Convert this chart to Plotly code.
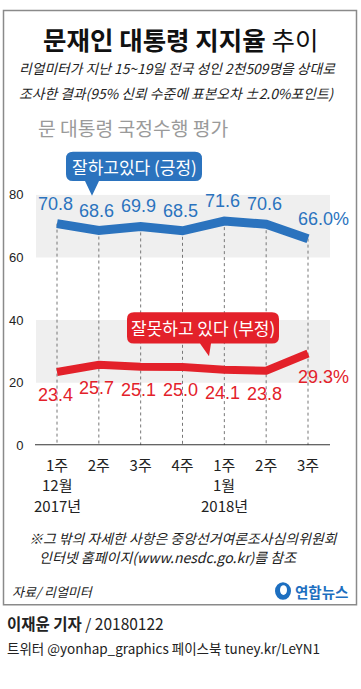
import plotly.graph_objects as go

W, H = 361, 689

weeks = ["1주", "2주", "3주", "4주", "1주", "2주", "3주"]
months = ["12월", "", "", "", "1월", "", ""]
years = ["2017년", "", "", "", "2018년", "", ""]
positive = [70.8, 68.6, 69.9, 68.5, 71.6, 70.6, 66.0]
negative = [23.4, 25.7, 25.1, 25.0, 24.1, 23.8, 29.3]
y_ticks = [0, 20, 40, 60, 80]

BLUE = "#2b73be"
RED = "#e3212a"
FONT = "Liberation Sans, Noto Sans CJK KR, sans-serif"
KFONT = "Noto Sans CJK KR, sans-serif"


def px(x):
    return x / W


def py(y):
    return 1 - y / H


xs = list(range(len(weeks)))

fig = go.Figure()

# dotted guides
gx, gy = [], []
for i, v in enumerate(positive):
    gx += [i, i, None]
    gy += [v, 0, None]
fig.add_trace(go.Scatter(x=gx, y=gy, mode="lines", hoverinfo="skip",
                         line=dict(color="#777777", width=1, dash="dot"), showlegend=False))

fig.add_trace(go.Scatter(x=xs, y=positive, mode="lines", line=dict(color=BLUE, width=9),
                         showlegend=False))
fig.add_trace(go.Scatter(x=xs, y=negative, mode="lines", line=dict(color=RED, width=8),
                         showlegend=False))

annotations = []
for i, v in enumerate(positive):
    last = i == len(positive) - 1
    annotations.append(dict(x=i, y=v, xref="x", yref="y", text=f"{v:.1f}" + ("%" if last else ""),
                            showarrow=False, yshift=20, xshift=(15 if last else -2),
                            font=dict(family=FONT, size=18, color=BLUE)))
for i, v in enumerate(negative):
    last = i == len(negative) - 1
    annotations.append(dict(x=i, y=v, xref="x", yref="y", text=f"{v:.1f}" + ("%" if last else ""),
                            showarrow=False, yshift=-23, xshift=(15 if last else -2),
                            font=dict(family=FONT, size=18, color=RED)))

# month / year rows under the week ticks
for i, (m, yv) in enumerate(zip(months, years)):
    if m:
        annotations.append(dict(x=i, y=1 - 488 / H, xref="x", yref="paper", text=m,
                                showarrow=False, yanchor="middle",
                                font=dict(family=KFONT, size=15, color="#222")))
    if yv:
        annotations.append(dict(x=i, y=1 - 509.5 / H, xref="x", yref="paper", text=yv,
                                showarrow=False, yanchor="middle",
                                font=dict(family=KFONT, size=15, color="#222")))


def T(text, x, y, size, color="#222", anchor="left", family=KFONT, style="normal"):
    annotations.append(dict(x=px(x), y=py(y), xref="paper", yref="paper", text=text,
                            showarrow=False, xanchor=anchor, yanchor="middle",
                            font=dict(family=family, size=size, color=color, style=style)))


T("<b>문재인 대통령 지지율</b> 추이", 180, 32, 25.5, "#111", "center")
T("리얼미터가 지난 15~19일 전국 성인 2천509명을 상대로", 17, 62, 13.8, "#222", style="italic")
T("조사한 결과(95% 신뢰 수준에 표본오차 ±2.0%포인트)", 17, 88, 13.8, "#222", style="italic")
T("문 대통령 국정수행 평가", 36, 124, 19.3, "#9a9a9a")
T("잘하고있다 (긍정)", 134, 163, 17, "white", "center")
T("잘못하고 있다 (부정)", 203, 328, 17, "white", "center")
T("※그 밖의 자세한 사항은 중앙선거여론조사심의위원회", 27, 543, 13.9, "#222", style="italic")
T("인터넷 홈페이지(www.nesdc.go.kr)를 참조", 37, 562, 14, "#222", style="italic")
T("자료/ 리얼미터", 10, 598, 13, "#222", style="italic")
T("<b>연합뉴스</b>", 293, 597, 14.5, "#1d6fc0")
T("<b>이재윤 기자</b> / 20180122", 5, 630, 15.5, "#222")
T("트위터 @yonhap_graphics 페이스북 tuney.kr/LeYN1", 5, 655, 13.5, "#222")


def rr_path(L, R, T_, B, r, base_l, base_r, tip):
    pts = [
        f"M{px(L + r)},{py(T_)}",
        f"L{px(R - r)},{py(T_)}",
        f"Q{px(R)},{py(T_)} {px(R)},{py(T_ + r)}",
        f"L{px(R)},{py(B - r)}",
        f"Q{px(R)},{py(B)} {px(R - r)},{py(B)}",
        f"L{px(base_r)},{py(B)}",
        f"L{px(tip[0])},{py(tip[1])}",
        f"L{px(base_l)},{py(B)}",
        f"L{px(L + r)},{py(B)}",
        f"Q{px(L)},{py(B)} {px(L)},{py(B - r)}",
        f"L{px(L)},{py(T_ + r)}",
        f"Q{px(L)},{py(T_)} {px(L + r)},{py(T_)}",
        "Z",
    ]
    return " ".join(pts)


shapes = [
    dict(type="rect", xref="paper", yref="paper", x0=px(3.5), x1=px(356.5), y0=py(611), y1=py(3.5),
         line=dict(color="#8a8a8a", width=1.5), layer="below"),
    dict(type="rect", xref="paper", yref="y", x0=px(36), x1=px(330), y0=60, y1=80,
         fillcolor="#efefef", line=dict(width=0), layer="below"),
    dict(type="rect", xref="paper", yref="y", x0=px(36), x1=px(330), y0=20, y1=40,
         fillcolor="#efefef", line=dict(width=0), layer="below"),
    dict(type="line", xref="paper", yref="y", x0=px(35), x1=px(330), y0=0, y1=0,
         line=dict(color="#333333", width=2)),
    dict(type="path", xref="paper", yref="paper",
         path=rr_path(66, 202, 148, 178, 7, 85, 99, (92, 193)),
         fillcolor=BLUE, line=dict(width=0)),
    dict(type="path", xref="paper", yref="paper",
         path=rr_path(127, 279, 312, 344, 7, 200, 211, (209, 357)),
         fillcolor=RED, line=dict(width=0)),
    dict(type="circle", xref="paper", yref="paper", x0=px(275), x1=px(291), y0=py(606), y1=py(588),
         fillcolor="#1d6fc0", line=dict(width=0)),
    dict(type="circle", xref="paper", yref="paper", x0=px(280), x1=px(287), y0=py(601), y1=py(591),
         fillcolor="white", line=dict(width=0)),
]

fig.update_layout(
    width=W, height=H,
    margin=dict(l=0, r=0, t=0, b=0),
    paper_bgcolor="white", plot_bgcolor="rgba(0,0,0,0)",
    xaxis=dict(domain=[px(35), px(330)], range=[-0.526, 6.526], tickvals=xs, ticktext=weeks,
               showgrid=False, zeroline=False, showline=False, ticks="", ticklabelstandoff=10,
               tickfont=dict(family=KFONT, size=15, color="#222"), fixedrange=True),
    yaxis=dict(domain=[py(448), py(192)], range=[0, 80], tickvals=y_ticks,
               ticktext=[str(t) for t in y_ticks],
               showgrid=False, zeroline=False, showline=False, ticks="outside", ticklen=8,
               tickcolor="rgba(0,0,0,0)",
               tickfont=dict(family=FONT, size=13, color="#222"), fixedrange=True),
    shapes=shapes,
    annotations=annotations,
    showlegend=False,
)

fig.write_html("out.html", config={"displayModeBar": False},
               post_script="document.body.style.margin='0';document.body.style.padding='0';")
